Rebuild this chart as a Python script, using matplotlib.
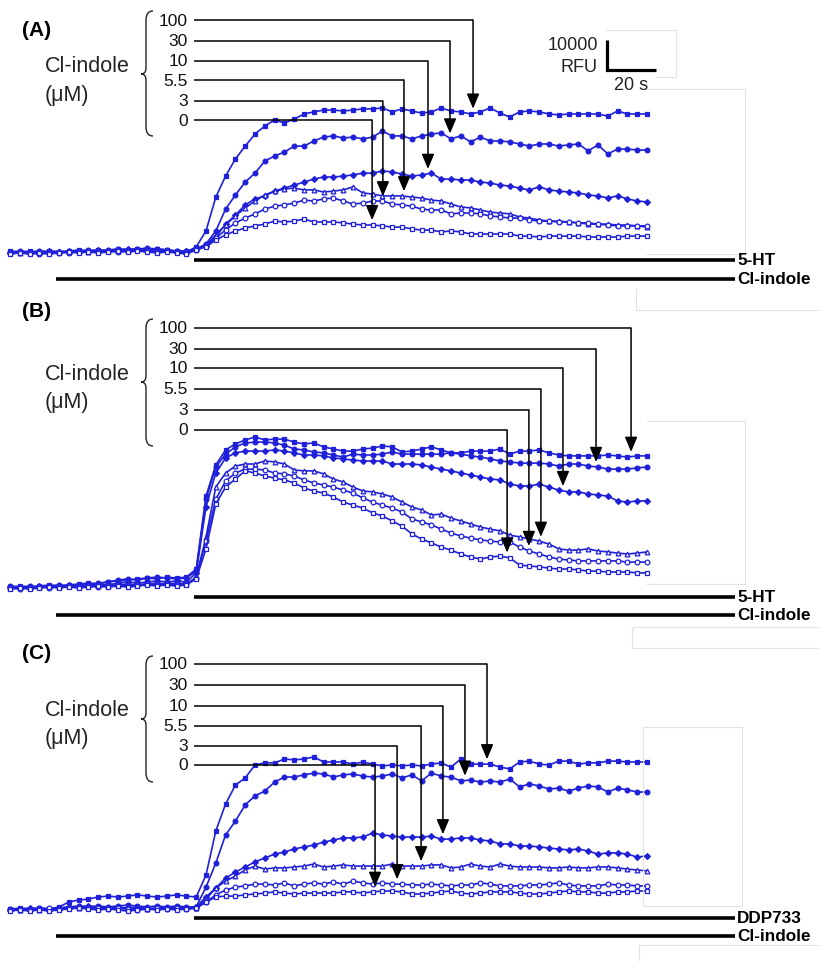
import numpy as np
import matplotlib
matplotlib.use("Agg")
import matplotlib.pyplot as plt
from matplotlib.path import Path
from matplotlib.patches import PathPatch

plt.rcParams['font.family'] = ['Liberation Sans', 'DejaVu Sans']

# ---------------- data (fluorescence above baseline, x1000 RFU) ----------------
time_s = np.arange(0, 261, 4)                      # sampling times (s)
conc_labels = ['100', '30', '10', '5.5', '3', '0']  # Cl-indole (uM)

# Panel A : Cl-indole pre-incubation, then 5-HT
A100 = [0.3, 0.0, 0.3, -0.3, 0.3, 0.0, 0.3, 0.7, 0.3, 0.7, 0.3, 1.0, 0.7, 1.0, 0.7, 1.0, 0.7, 0.3, 0.0,
        1.7, 7.0, 18.3, 25.3, 31.0, 35.3, 39.3, 42.0, 44.0, 43.0, 44.3, 46.0, 46.7, 47.3, 47.3, 47.0, 47.3,
        47.7, 47.7, 48.0, 46.7, 47.7, 47.0, 46.3, 46.7, 48.0, 47.0, 46.7, 46.0, 46.7, 48.0, 46.3, 45.0, 46.7,
        47.0, 46.7, 46.0, 45.7, 46.0, 46.0, 46.0, 46.0, 45.3, 47.0, 46.0, 46.0, 46.0]
A30 = [0.0, 0.3, 0.0, 0.3, 0.0, -0.3, 0.0, 0.3, 0.7, 0.3, 0.7, 1.0, 0.7, 1.0, 1.3, 1.0, 0.7, 0.3, 0.3,
       1.0, 2.7, 7.0, 14.3, 19.0, 23.3, 26.3, 30.3, 32.0, 33.3, 35.3, 35.3, 37.0, 38.3, 38.7, 38.0, 38.3,
       37.7, 38.3, 40.3, 38.7, 38.7, 37.7, 38.7, 39.3, 39.7, 37.7, 38.7, 36.7, 38.3, 37.0, 37.0, 36.7, 36.0,
       35.3, 36.0, 36.0, 35.3, 35.7, 36.0, 33.7, 35.7, 32.7, 34.3, 34.3, 34.0, 34.0]
A10 = [-0.3, 0.0, -0.3, 0.0, 0.3, 0.0, 0.3, 0.0, 0.3, 0.7, 0.3, 0.7, 1.0, 0.7, 1.0, 0.7, 0.3, 0.0, 0.3,
       1.0, 2.0, 5.0, 9.3, 12.3, 15.7, 17.7, 18.7, 20.3, 21.3, 22.3, 23.3, 24.3, 25.0, 25.0, 25.3, 25.7,
       26.3, 26.3, 27.0, 26.7, 26.0, 25.3, 25.7, 26.3, 24.3, 24.3, 24.0, 24.0, 23.3, 23.0, 22.3, 22.0, 21.3,
       20.7, 21.7, 20.7, 20.3, 20.0, 19.7, 19.0, 18.7, 18.0, 18.7, 17.7, 17.0, 16.7]
A5_5 = [0.0, -0.3, 0.0, 0.3, 0.0, 0.3, 0.0, 0.3, 0.0, 0.3, 0.7, 0.3, 0.7, 1.0, 0.7, 0.3, 0.7, 0.3, 0.0,
        1.0, 2.3, 5.7, 9.0, 12.0, 14.7, 17.0, 19.0, 20.3, 21.0, 21.3, 20.7, 20.7, 20.0, 20.3, 20.7, 21.7,
        19.7, 19.3, 18.7, 18.7, 18.7, 18.3, 18.0, 17.3, 17.0, 16.0, 15.0, 14.7, 14.0, 13.3, 13.0, 12.7, 11.7,
        11.3, 10.7, 10.3, 10.3, 10.0, 9.7, 9.3, 9.3, 9.3, 9.0, 9.0, 8.7, 8.3]
A3 = [-0.3, 0.0, -0.3, -0.7, -0.3, 0.0, -0.3, 0.0, 0.3, 0.0, 0.3, 0.0, 0.3, 0.7, 0.3, 0.0, 0.3, 0.0, -0.3,
      0.7, 2.0, 4.7, 7.3, 9.7, 11.3, 12.7, 14.3, 15.3, 15.7, 16.3, 17.3, 17.0, 17.7, 18.0, 17.0, 16.0,
      16.3, 17.0, 17.0, 16.0, 15.7, 15.3, 14.3, 14.0, 14.0, 12.7, 13.0, 13.0, 12.7, 12.0, 11.7, 11.3, 11.3,
      10.7, 10.3, 10.3, 10.0, 10.0, 9.7, 9.7, 9.3, 9.0, 8.7, 8.7, 8.7, 8.7]
A0 = [-0.7, -0.3, -0.7, -0.3, -0.7, -0.3, 0.0, -0.3, 0.0, -0.3, 0.0, 0.3, 0.0, 0.3, 0.0, -0.3, 0.0, -0.3, -0.7,
      0.7, 1.7, 4.0, 5.7, 7.0, 8.0, 8.7, 9.3, 10.3, 10.0, 10.3, 11.0, 10.0, 10.0, 10.0, 9.7, 9.3,
      9.0, 9.0, 8.7, 8.3, 8.3, 7.7, 7.3, 7.3, 6.7, 7.0, 6.7, 6.0, 6.0, 6.0, 6.0, 6.0, 5.3,
      5.3, 5.0, 5.3, 5.3, 5.3, 5.3, 5.0, 5.0, 5.0, 5.0, 5.3, 5.3, 5.3]

# Panel B
B100 = [0.0, 0.3, 0.0, 0.3, 0.7, 0.3, 0.7, 1.0, 1.3, 1.0, 1.7, 2.0, 2.3, 2.7, 3.0, 2.7, 3.3, 3.0, 3.3,
        6.0, 30.3, 40.7, 45.7, 47.7, 49.0, 50.0, 49.0, 49.3, 49.3, 48.3, 47.7, 48.0, 46.7, 46.0, 45.3, 45.3,
        46.0, 46.3, 47.0, 46.7, 45.0, 45.3, 46.0, 46.7, 45.7, 44.7, 44.7, 45.3, 45.3, 45.3, 46.0, 44.3, 45.3,
        45.3, 45.7, 44.7, 44.0, 43.7, 43.7, 43.7, 43.7, 44.0, 43.7, 43.3, 43.7, 43.7]
B30 = [0.3, 0.0, 0.3, 0.0, 0.3, 0.7, 0.3, 0.7, 1.0, 1.3, 1.7, 2.3, 2.7, 2.3, 3.0, 3.3, 3.0, 2.7, 3.0,
       5.3, 29.3, 40.0, 44.3, 46.7, 48.0, 48.3, 48.3, 48.0, 47.3, 46.0, 45.7, 45.0, 44.7, 44.0, 43.3, 44.3,
       44.0, 44.0, 44.3, 45.0, 44.3, 44.3, 44.3, 44.3, 44.3, 44.7, 44.3, 43.7, 43.3, 42.7, 42.0, 41.7, 41.3,
       41.3, 41.3, 41.0, 40.3, 41.0, 41.0, 40.3, 40.0, 39.3, 39.3, 39.3, 39.7, 40.0]
B10 = [0.0, -0.3, 0.0, 0.3, 0.0, 0.3, 0.7, 0.3, 0.7, 1.0, 0.7, 1.3, 1.7, 1.3, 1.7, 2.0, 1.7, 2.0, 1.7,
       4.7, 26.7, 38.0, 43.0, 44.7, 45.3, 45.3, 45.3, 45.7, 45.3, 44.7, 44.0, 44.0, 43.7, 43.0, 42.7, 42.3,
       42.0, 42.0, 42.0, 41.0, 41.0, 41.0, 40.7, 40.0, 39.3, 38.7, 38.0, 37.3, 36.7, 36.0, 35.7, 34.3, 33.7,
       33.7, 34.3, 33.3, 32.3, 31.7, 31.7, 31.0, 30.7, 30.3, 28.7, 28.3, 28.7, 28.7]
B5_5 = [-0.3, 0.0, -0.3, 0.0, 0.3, 0.0, 0.3, 0.0, 0.3, 0.7, 0.3, 0.7, 1.0, 0.7, 1.0, 1.3, 1.0, 1.3, 1.0,
        3.3, 16.7, 33.3, 38.0, 40.3, 41.0, 41.0, 42.0, 41.7, 41.0, 39.0, 38.7, 38.7, 37.7, 36.0, 35.0, 33.3,
        32.0, 31.7, 31.0, 30.0, 28.3, 26.7, 25.7, 24.0, 24.3, 23.0, 22.0, 21.0, 20.0, 19.3, 18.7, 17.3, 16.7,
        16.0, 15.3, 14.3, 12.7, 12.3, 12.3, 12.7, 12.0, 11.7, 11.3, 11.0, 11.3, 11.7]
B3 = [-0.3, -0.7, -0.3, 0.0, -0.3, 0.0, 0.3, 0.0, 0.3, 0.0, 0.3, 0.7, 0.3, 0.7, 1.0, 0.7, 1.0, 0.7, 1.0,
      3.0, 15.3, 29.3, 35.3, 38.0, 39.3, 39.3, 39.0, 38.0, 37.7, 37.0, 35.7, 34.7, 34.0, 33.3, 32.3, 31.3,
      29.7, 28.3, 27.3, 26.3, 25.0, 22.7, 21.7, 20.7, 19.3, 18.0, 17.0, 16.3, 15.7, 15.3, 15.0, 15.0, 13.3,
      12.0, 11.0, 10.0, 9.3, 9.0, 8.7, 8.7, 8.7, 8.7, 8.7, 8.3, 8.3, 8.3]
B0 = [-0.7, -0.3, -0.7, -0.3, 0.0, -0.3, 0.0, -0.3, 0.0, 0.3, 0.0, 0.3, 0.0, 0.3, 0.7, 0.3, 0.7, 0.3, 0.7,
      2.7, 12.7, 27.7, 33.3, 36.0, 38.7, 38.0, 37.0, 36.3, 35.7, 34.7, 33.0, 32.0, 31.3, 30.0, 28.3, 27.3,
      26.3, 24.7, 23.7, 22.0, 20.3, 17.7, 16.0, 14.7, 13.3, 12.3, 11.0, 10.0, 9.3, 10.0, 10.3, 9.7, 7.3,
      7.0, 6.7, 6.3, 6.0, 6.0, 5.7, 5.3, 5.3, 5.0, 5.0, 5.0, 4.7, 4.7]

# Panel C : Cl-indole pre-incubation, then DDP733
C100 = [0.0, 0.3, 0.0, 0.3, 0.0, 0.7, 2.3, 3.0, 3.3, 4.0, 4.3, 4.0, 4.3, 4.7, 4.3, 4.0, 4.3, 4.7, 4.3,
        4.0, 11.3, 26.0, 35.0, 41.3, 43.7, 48.0, 48.7, 48.7, 50.0, 49.7, 50.0, 50.7, 49.0, 49.0, 49.0, 48.3,
        49.0, 48.3, 47.7, 48.0, 47.7, 48.0, 47.7, 48.3, 48.7, 47.3, 50.0, 48.3, 48.3, 48.3, 47.3, 46.7, 49.0,
        49.3, 48.3, 48.0, 49.3, 49.3, 48.3, 48.7, 48.7, 49.3, 49.3, 49.0, 49.0, 49.0]
C30 = [0.0, -0.3, 0.0, 0.3, 0.0, 0.3, 0.7, 1.0, 0.7, 1.0, 0.7, 1.0, 1.3, 1.0, 0.7, 1.0, 0.7, 1.0, 0.7,
       0.7, 7.3, 15.3, 24.7, 29.3, 34.7, 37.7, 39.3, 42.3, 44.0, 44.0, 44.7, 45.3, 45.0, 44.0, 44.7, 45.0,
       44.3, 44.0, 44.3, 45.0, 43.7, 44.7, 42.7, 45.3, 44.3, 44.0, 42.7, 43.0, 42.3, 42.7, 42.3, 43.3, 40.7,
       41.7, 41.0, 40.0, 40.3, 39.3, 40.3, 41.0, 40.7, 39.0, 40.3, 39.7, 39.0, 39.0]
C10 = [-0.3, 0.0, 0.3, 0.0, -0.3, 0.0, 0.3, 0.7, 1.0, 0.7, 0.3, 0.7, 0.3, 0.7, 0.3, 0.0, 0.3, 0.7, 0.3,
       0.7, 4.0, 7.0, 10.3, 12.3, 14.0, 15.7, 17.0, 18.3, 19.0, 20.0, 20.7, 21.3, 22.3, 23.0, 23.7, 23.7,
       24.0, 25.3, 24.7, 24.3, 24.0, 24.0, 24.0, 24.3, 23.3, 23.3, 23.7, 23.7, 23.0, 22.7, 21.7, 21.7, 21.0,
       21.0, 20.7, 20.3, 20.0, 19.7, 20.0, 19.3, 18.3, 18.7, 18.7, 18.3, 17.3, 17.7]
C5_5 = [0.0, -0.3, 0.0, -0.3, 0.0, 0.3, 0.7, 0.3, 0.7, 0.3, 0.7, 0.3, 0.0, 0.3, 0.0, 0.3, 0.7, 0.3, 0.3,
        0.3, 3.3, 7.0, 9.3, 11.0, 13.0, 14.3, 13.3, 13.7, 13.7, 14.0, 14.3, 15.0, 14.0, 14.3, 14.7, 14.3,
        14.3, 14.3, 14.3, 15.0, 14.3, 14.3, 14.3, 14.7, 14.7, 13.7, 14.0, 15.0, 14.3, 14.0, 15.0, 14.3, 14.0,
        14.0, 14.0, 13.7, 13.7, 14.0, 13.7, 13.7, 14.0, 14.0, 13.7, 13.3, 13.0, 12.7]
C3 = [-0.3, 0.0, -0.3, 0.0, 0.3, 0.0, 0.3, 0.7, 0.3, 0.3, 0.0, 0.3, 0.0, -0.3, 0.0, 0.3, 0.0, 0.3, 0.0,
      0.3, 2.3, 4.7, 6.3, 7.3, 7.7, 8.3, 8.3, 8.0, 8.7, 7.7, 8.3, 8.7, 8.3, 9.0, 8.3, 9.3,
      8.7, 8.3, 8.7, 8.3, 8.3, 8.0, 8.0, 8.3, 8.0, 7.7, 8.0, 8.0, 8.7, 8.3, 7.7, 7.7, 7.7,
      8.0, 8.0, 8.3, 8.7, 8.0, 7.7, 7.7, 7.7, 8.3, 8.0, 8.0, 7.7, 7.7]
C0 = [-0.7, -0.3, -0.7, -0.3, -0.7, -0.3, 0.0, 0.3, 0.0, -0.3, 0.0, -0.3, -0.7, -0.3, 0.0, -0.3, 0.0, -0.3, 0.0,
      0.3, 2.3, 4.0, 4.3, 4.3, 4.7, 5.0, 5.3, 5.7, 5.3, 5.0, 5.3, 5.3, 5.3, 5.3, 5.7, 5.7,
      5.3, 5.7, 6.0, 6.0, 5.7, 5.0, 5.0, 5.3, 5.7, 6.0, 5.3, 5.0, 5.3, 5.7, 5.7, 5.7, 5.3,
      5.0, 5.0, 5.3, 5.7, 6.0, 5.7, 5.7, 5.3, 5.3, 5.7, 5.7, 6.0, 6.0]

# times (s) at which the label arrows point onto each trace
arrow_t_A = [189.0, 179.6, 170.6, 160.8, 152.2, 147.8]
arrow_t_B = [253.5, 239.2, 225.7, 216.7, 211.8, 202.9]
arrow_t_C = [194.7, 185.7, 176.7, 167.8, 158.0, 149.0]
agonist_t = 75.0          # agonist addition (s)
clindole_t = 18.8         # Cl-indole line start (s)
bar_end_t = 296.0

# ---------------- layout ----------------
W, H = 820, 962
X0_PX, PX_PER_S, PX_PER_K = 10.0, 2.45, 3.0
BLUE = '#2020d8'
markers = [('s', True), ('o', True), ('D', True), ('^', False), ('o', False), ('s', False)]

panels = [
    dict(tag='(A)', band=(0, 300), base=253, traces=[A100, A30, A10, A5_5, A3, A0], arrows=arrow_t_A,
         rows=[21, 42, 62, 81, 102, 121], agonist='5-HT', bars=(261, 280), tag_y=31,
         lab_y=(67, 95), brace=(12, 75, 137)),
    dict(tag='(B)', band=(300, 630), base=588, traces=[B100, B30, B10, B5_5, B3, B0], arrows=arrow_t_B,
         rows=[329, 350, 369, 390, 411, 431], agonist='5-HT', bars=(598, 616), tag_y=312,
         lab_y=(375, 403), brace=(320, 383, 447)),
    dict(tag='(C)', band=(630, 962), base=910, traces=[C100, C30, C10, C5_5, C3, C0], arrows=arrow_t_C,
         rows=[665, 686, 707, 727, 747, 766], agonist='DDP733', bars=(919, 937), tag_y=654,
         lab_y=(711, 739), brace=(657, 720, 783)),
]

fig = plt.figure(figsize=(W / 100, H / 100), dpi=100)
fig.patch.set_facecolor('white')

def tx(px):
    return (px - X0_PX) / PX_PER_S

axes = []
for p in panels:
    top, bot = p['band']
    base = p['base']
    ky = lambda py, b=base: (b - py) / PX_PER_K
    ax = fig.add_axes([0, 1 - bot / H, 1, (bot - top) / H])
    ax.set_xlim(tx(0), tx(W))
    ax.set_ylim(ky(bot), ky(top))
    ax.axis('off')
    for vals, (mk, filled) in zip(p['traces'], markers):
        ax.plot(time_s, vals, color=BLUE, lw=1.2, marker=mk,
                ms=3.4 if mk != 'D' else 3.0, mec=BLUE, mew=0.9,
                mfc=BLUE if filled else 'white', zorder=2)
    # concentration labels with arrows
    for i, c in enumerate(conc_labels):
        yrow = ky(p['rows'][i])
        ta = p['arrows'][i]
        tip = np.interp(ta, time_s, p['traces'][i]) + 1.6
        ax.text(tx(188), yrow, c, ha='right', va='center', fontsize=12.5, color='#111111')
        ax.plot([tx(194), ta], [yrow, yrow], color='k', lw=1.1, zorder=3, solid_capstyle='butt')
        ax.annotate('', xy=(ta, tip), xytext=(ta, yrow),
                    arrowprops=dict(arrowstyle='-|>,head_length=0.9,head_width=0.38',
                                    mutation_scale=10, lw=1.1, color='k',
                                    shrinkA=0, shrinkB=0), zorder=4)
    # treatment bars
    y1, y2 = ky(p['bars'][0]), ky(p['bars'][1])
    ax.plot([agonist_t, bar_end_t], [y1, y1], color='k', lw=2.6, solid_capstyle='butt')
    ax.plot([clindole_t, bar_end_t], [y2, y2], color='k', lw=2.6, solid_capstyle='butt')
    axes.append(ax)

# scale bar (10000 RFU, 20 s) in panel A data units
axA = axes[0]
t0, k0 = tx(607), (253 - 71) / PX_PER_K
axA.plot([t0, t0, t0 + 20], [k0 + 10, k0, k0], color='k', lw=2.3,
         solid_joinstyle='miter', solid_capstyle='butt')

# ---------------- overlay for text & decorations (pixel coordinates) ----------------
ov = fig.add_axes([0, 0, 1, 1])
ov.set_xlim(0, W)
ov.set_ylim(H, 0)
ov.axis('off')

for p in panels:
    ov.text(22, p['tag_y'], p['tag'], fontsize=15, fontweight='bold', ha='left', va='center')
    ov.text(45, p['lab_y'][0], 'Cl-indole', fontsize=15.5, ha='left', va='center', color='#222222')
    ov.text(45, p['lab_y'][1], '(μM)', fontsize=15.5, ha='left', va='center', color='#222222')
    bt, bm, bb = p['brace']
    verts = [(153, bt), (146, bt), (146, bt + 9), (146, bm - 6), (146, bm), (141, bm),
             (146, bm), (146, bm + 6), (146, bb - 9), (146, bb), (153, bb)]
    codes = [Path.MOVETO, Path.CURVE3, Path.CURVE3, Path.LINETO, Path.CURVE3, Path.CURVE3,
             Path.CURVE3, Path.CURVE3, Path.LINETO, Path.CURVE3, Path.CURVE3]
    ov.add_patch(PathPatch(Path(verts, codes), fill=False, lw=1.0, color='#222222'))
    ov.text(737, p['bars'][0], p['agonist'], fontsize=12.3, fontweight='bold', ha='left', va='center')
    ov.text(737, p['bars'][1], 'Cl-indole', fontsize=12.3, fontweight='bold', ha='left', va='center')

ov.text(598, 45, '10000', fontsize=13, ha='right', va='center', color='#222222')
ov.text(598, 67, 'RFU', fontsize=13, ha='right', va='center', color='#222222')
ov.text(631, 85, '20 s', fontsize=13, ha='center', va='center', color='#222222')

# faint grey frame remnants
GR = '#e2e2e2'
segs = [
    [(606, 31), (676, 31), (676, 78), (656, 78)],
    [(647, 90), (745, 90), (745, 255), (647, 255)],
    [(636, 290), (636, 300)],
    [(636, 300), (636, 311), (820, 311)],
    [(647, 422), (745, 422), (745, 585), (647, 585)],
    [(633, 630), (633, 628), (820, 628)],
    [(632, 630), (632, 649), (820, 649)],
    [(643, 728), (742, 728), (742, 907), (643, 907), (643, 728)],
    [(820, 946), (639, 946), (639, 962)],
]
for s in segs:
    xs, ys = zip(*s)
    ov.plot(xs, ys, color=GR, lw=0.8)

fig.savefig('out.png', dpi=100, facecolor='white')
